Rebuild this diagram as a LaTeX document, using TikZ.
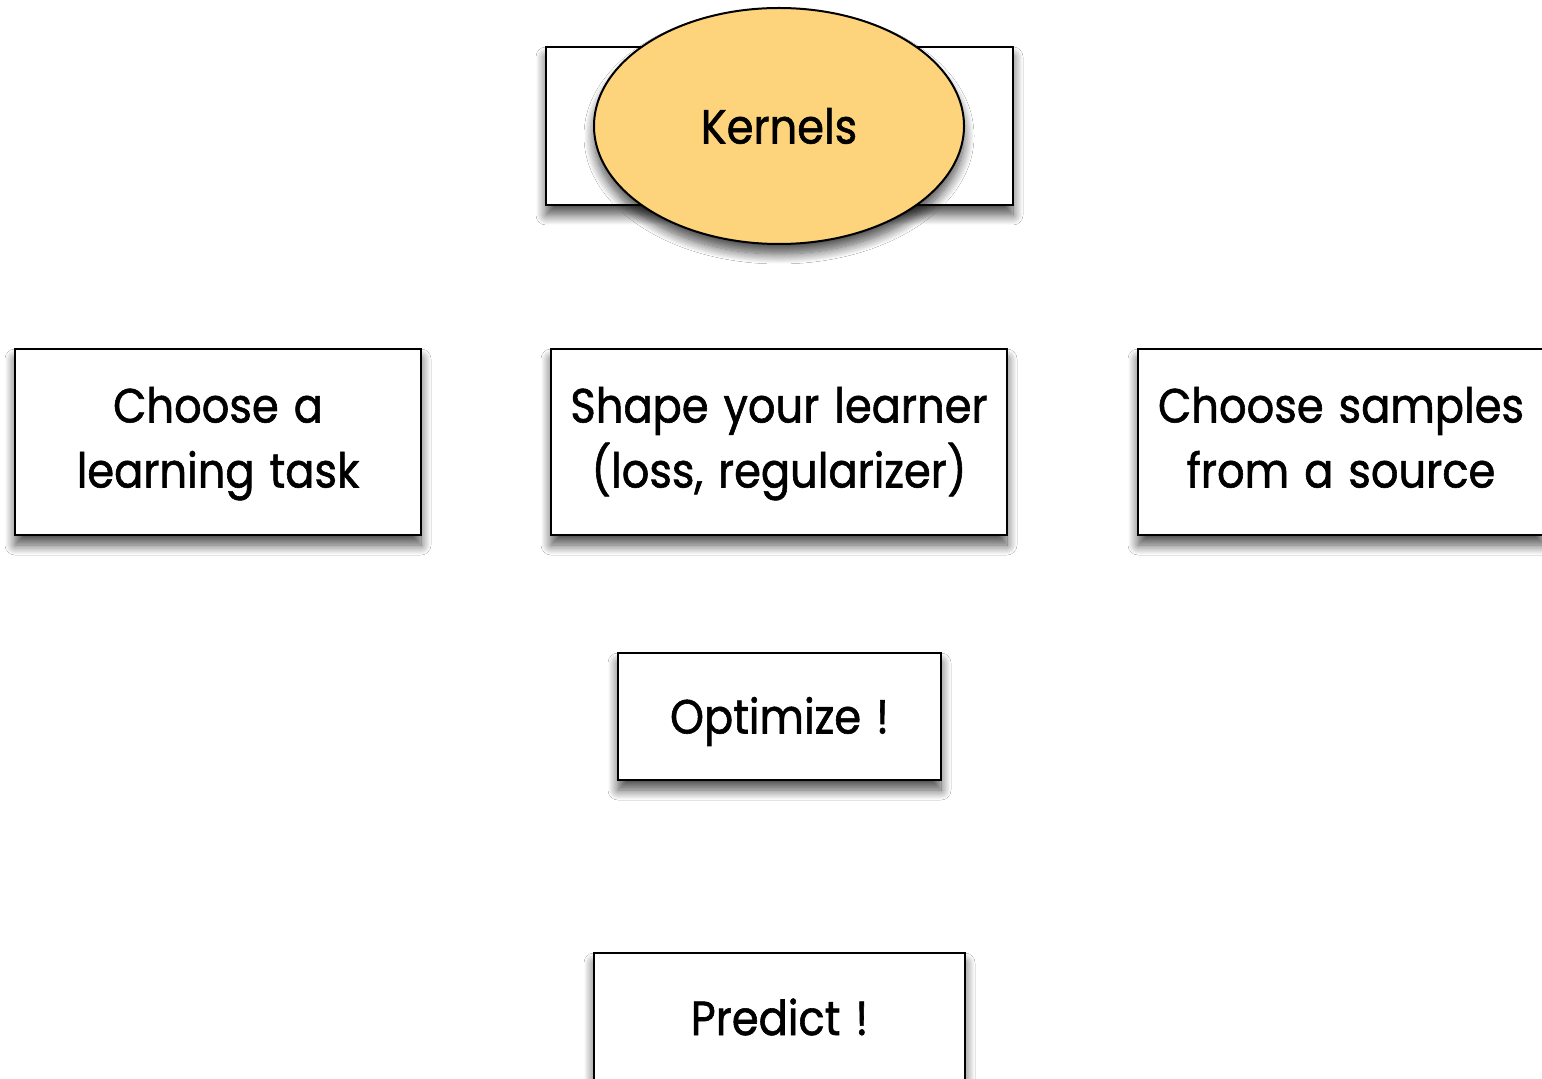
\documentclass[tikz,border=0pt]{standalone}
\usepackage{fontspec}
\setmainfont{Poppins}[FakeStretch=0.9, FakeBold=1.2, WordSpace=1.3]
\usetikzlibrary{shapes.geometric,shadows.blur}
\definecolor{kernfill}{RGB}{253,212,124}
\newcommand\twolines[2]{\raisebox{-4pt}{\begin{tabular}{@{}c@{}}#1\\#2\end{tabular}}}
\begin{document}
\begin{tikzpicture}[x=0.5pt,y=-0.5pt,
  shad/.style={blur shadow={shadow xshift=0pt, shadow yshift=-5pt, shadow blur radius=5pt, shadow blur steps=14, shadow opacity=70}},
  box/.style={draw=black, line width=1pt, fill=white, rectangle, inner sep=0pt, shad,
    font=\fontsize{24}{32.5}\selectfont, align=center},
  kernel/.style={ellipse, draw=black, line width=1pt, fill=kernfill, inner sep=0pt, shad,
    font=\fontsize{24}{32.5}\selectfont},
]
\fill[white] (0,0) rectangle (1542,1079);
\useasboundingbox (0,0) rectangle (1542,1079);
\node[box, minimum width=233.5pt, minimum height=79pt] (feat) at (779.5,126) {};
\node[kernel, minimum width=185pt, minimum height=118pt] (kern) at (779,126) {Kernels};
\node[box, minimum width=203pt, minimum height=93pt] (task) at (218,442) {\twolines{Choose a}{learning task}};
\node[box, minimum width=228pt, minimum height=93pt] (learner) at (779,442) {\twolines{Shape your learner}{(loss, regularizer)}};
\node[box, minimum width=203pt, minimum height=93pt] (samples) at (1341,442) {\twolines{Choose samples}{from a source}};
\node[box, minimum width=161.5pt, minimum height=63.5pt, text height=17pt, text depth=0pt] (opt) at (779.5,716.5) {Optimize !};
\node[box, minimum width=185.5pt, minimum height=64pt] (pred) at (779.5,1017) {Predict !};
\end{tikzpicture}
\end{document}
